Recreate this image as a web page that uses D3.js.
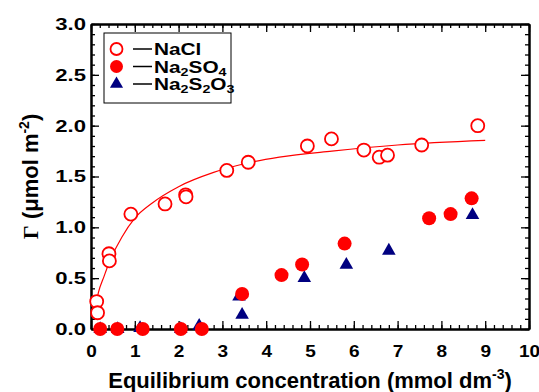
<!DOCTYPE html>
<html>
<head>
<meta charset="utf-8">
<script src="https://cdn.jsdelivr.net/npm/d3@7"></script>
<style>
  body { margin: 0; background: #fff; }
  text { font-family: "Liberation Sans", Arial, sans-serif; font-weight: bold; fill: #000; }
</style>
</head>
<body>
<svg class="main" width="539" height="392"></svg>
<script>
// NaCl (open circles)
var naclX = [0.13, 0.15, 0.41, 0.42, 0.91, 1.69, 2.16, 2.17, 3.10, 3.59, 4.94, 5.49, 6.23, 6.58, 6.77, 7.55, 8.83]
var naclY = [0.27, 0.16, 0.74, 0.67, 1.13, 1.23, 1.32, 1.30, 1.56, 1.64, 1.80, 1.87, 1.76, 1.69, 1.71, 1.81, 2.00]
// Na2SO4 (filled circles)
var so4X = [0.21, 0.60, 1.18, 2.05, 2.53, 3.45, 4.35, 4.82, 5.79, 7.72, 8.21, 8.69]
var so4Y = [0, 0, 0, 0, 0, 0.345, 0.53, 0.635, 0.84, 1.09, 1.13, 1.285]
// Na2S2O3 (triangles)
var s2o3X = [0.21, 0.61, 1.12, 2.05, 2.47, 3.38, 3.45, 4.87, 5.83, 6.80, 8.71]
var s2o3Y = [0, 0, 0.01, 0, 0.03, 0.32, 0.14, 0.50, 0.63, 0.77, 1.12]
// fitted curve for NaCl
var fitX = [0.1, 0.17, 0.3, 0.41, 0.7, 1.0, 1.4, 2.0, 2.8, 3.55, 4.3, 5.5, 7.0, 9.0]
var fitY = [0.21, 0.36, 0.52, 0.65, 0.90, 1.09, 1.24, 1.40, 1.54, 1.63, 1.69, 1.75, 1.81, 1.855]

var xTicks = [0, 1, 2, 3, 4, 5, 6, 7, 8, 9, 10]
var yTicks = [0, 0.5, 1.0, 1.5, 2.0, 2.5, 3.0]

const margin = {top: 24, right: 10, bottom: 63, left: 91}
const width = 539 - margin.left - margin.right
const height = 392 - margin.top - margin.bottom

var svg = d3.select('svg.main')
var body = svg.append('g')
  .attr('transform', `translate(${margin.left}, ${margin.top})`)

const x = d3.scaleLinear().domain([0, 10]).range([0, width])
const y = d3.scaleLinear().domain([0, 3]).range([height, 0])

// minor ticks on all sides
var xMinor = x.ticks(50)
var yMinor = y.ticks(30)
function minorAxis(axis, vals) { return axis.tickValues(vals).tickSize(-4).tickSizeOuter(0).tickFormat('') }
body.append('g').attr('transform', `translate(0, ${height})`).call(minorAxis(d3.axisBottom(x), xMinor))
body.append('g').call(minorAxis(d3.axisTop(x), xMinor))
body.append('g').call(minorAxis(d3.axisLeft(y), yMinor))
body.append('g').attr('transform', `translate(${width}, 0)`).call(minorAxis(d3.axisRight(y), yMinor))

// major ticks
const xAxis = body.append('g')
  .attr('transform', `translate(0, ${height})`)
  .call(d3.axisBottom(x).tickValues(xTicks).tickSize(-8).tickSizeOuter(0).tickPadding(16).tickFormat(d3.format('d')))
xAxis.selectAll('text').attr('font-size', 17).attr('transform', 'scale(1.12,1)')

const yAxis = body.append('g')
  .call(d3.axisLeft(y).tickValues(yTicks).tickSize(-8).tickSizeOuter(0).tickPadding(5).tickFormat(d3.format('.1f')))
yAxis.selectAll('text').attr('font-size', 17).attr('x', -5 / 1.3).attr('transform', 'scale(1.3,1)')

body.append('g').call(d3.axisTop(x).tickValues(xTicks).tickSize(-8).tickSizeOuter(0).tickFormat(''))
body.append('g').attr('transform', `translate(${width}, 0)`)
  .call(d3.axisRight(y).tickValues(yTicks).tickSize(-8).tickSizeOuter(0).tickFormat(''))

body.selectAll('.domain').attr('stroke-width', 2)
body.selectAll('.tick line').attr('stroke-width', 1.3)

// fitted curve
var fit = fitX.map((d, i) => [d, fitY[i]])
body.append('path')
  .datum(fit)
  .attr('fill', 'none')
  .attr('stroke', '#ff0000')
  .attr('stroke-width', 1.2)
  .attr('d', d3.line().x(d => x(d[0])).y(d => y(d[1])).curve(d3.curveMonotoneX))

// triangles
var tri = d3.symbol().type(d3.symbolTriangle).size(80)
body.append('g').selectAll('path')
  .data(s2o3X.map((d, i) => [d, s2o3Y[i]]))
  .join('path')
  .attr('d', tri)
  .attr('fill', '#000080')
  .attr('transform', d => `translate(${x(d[0])}, ${y(d[1])})`)

// filled circles
body.append('g').selectAll('circle')
  .data(so4X.map((d, i) => [d, so4Y[i]]))
  .join('circle')
  .attr('cx', d => x(d[0]))
  .attr('cy', d => y(d[1]))
  .attr('r', 7)
  .attr('fill', '#ff0000')

// open circles
body.append('g').selectAll('circle')
  .data(naclX.map((d, i) => [d, naclY[i]]))
  .join('circle')
  .attr('cx', d => x(d[0]))
  .attr('cy', d => y(d[1]))
  .attr('r', 6.5)
  .attr('fill', '#fff')
  .attr('stroke', '#ff0000')
  .attr('stroke-width', 1.8)

// legend
var legend = svg.append('g').attr('transform', 'translate(104, 33)')
legend.append('rect')
  .attr('width', 127).attr('height', 70)
  .attr('fill', '#fff').attr('stroke', '#000').attr('stroke-width', 1)
var rows = [16, 33.5, 51]
legend.append('circle').attr('cx', 12.5).attr('cy', rows[0]).attr('r', 6)
  .attr('fill', '#fff').attr('stroke', '#ff0000').attr('stroke-width', 1.8)
legend.append('circle').attr('cx', 12.5).attr('cy', rows[1]).attr('r', 6.5).attr('fill', '#ff0000')
legend.append('path').attr('d', d3.symbol().type(d3.symbolTriangle).size(75))
  .attr('fill', '#000080').attr('transform', `translate(12.5, ${rows[2]})`)
rows.forEach(r => {
  legend.append('line').attr('x1', 29).attr('x2', 48).attr('y1', r).attr('y2', r)
    .attr('stroke', '#000').attr('stroke-width', 1.5)
})
function legendText(r) {
  return legend.append('text')
    .attr('transform', `translate(50, ${r + 6}) scale(1.3,1)`)
    .attr('font-size', 16)
}
legendText(rows[0]).text('NaCl')
var t2 = legendText(rows[1])
t2.append('tspan').text('Na')
t2.append('tspan').text('2').attr('font-size', 11).attr('dy', 3)
t2.append('tspan').text('SO').attr('dy', -3)
t2.append('tspan').text('4').attr('font-size', 11).attr('dy', 3)
var t3 = legendText(rows[2])
t3.append('tspan').text('Na')
t3.append('tspan').text('2').attr('font-size', 11).attr('dy', 3)
t3.append('tspan').text('S').attr('dy', -3)
t3.append('tspan').text('2').attr('font-size', 11).attr('dy', 3)
t3.append('tspan').text('O').attr('dy', -3)
t3.append('tspan').text('3').attr('font-size', 11).attr('dy', 3)

// axis titles
var xt = svg.append('text')
  .attr('x', margin.left + width / 2).attr('y', 388)
  .attr('text-anchor', 'middle').attr('font-size', 22)
xt.append('tspan').text('Equilibrium concentration (mmol dm')
xt.append('tspan').text('-3').attr('font-size', 14).attr('dy', -9)
xt.append('tspan').text(')').attr('dy', 9)

var yt = svg.append('text')
  .attr('transform', `translate(38, ${margin.top + height / 2}) rotate(-90)`)
  .attr('text-anchor', 'middle').attr('font-size', 22)
yt.append('tspan').text('Γ').attr('font-family', '"Liberation Serif", "Times New Roman", serif')
yt.append('tspan').text(' (μmol m')
yt.append('tspan').text('-2').attr('font-size', 14).attr('dy', -9)
yt.append('tspan').text(')').attr('dy', 9)
</script>
</body>
</html>
